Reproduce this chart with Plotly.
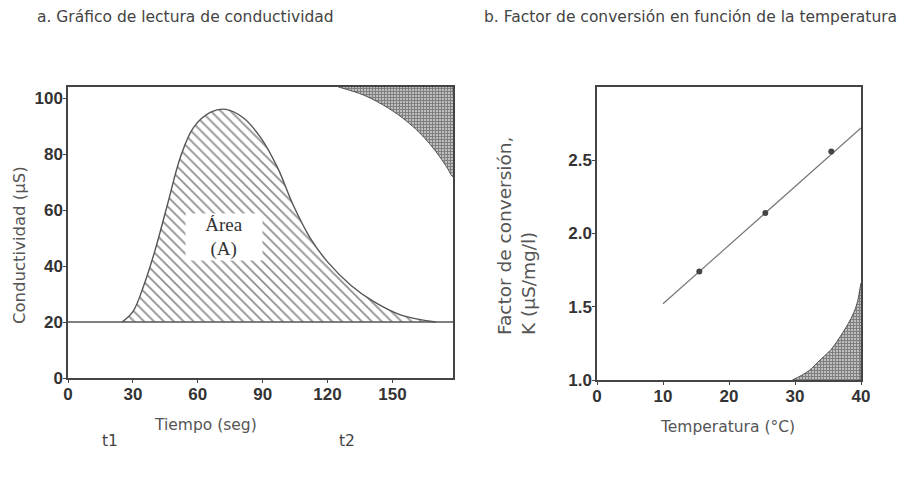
import plotly.graph_objects as go

# ---- Panel a data ----
time_s = [25, 30, 35, 40, 46, 52, 58, 66, 73, 81, 89, 97, 104, 112, 120, 131, 141, 154, 170]
cond_us = [20, 23.7, 33, 45, 62, 79, 89.5, 95, 96, 93, 86, 75, 62, 50, 41.5, 33, 27.5, 22.5, 20]
baseline_t = [0, 178]
baseline_c = [20, 20]
corner_a_t = [125, 137, 148, 157, 164, 170, 175, 178, 178]
corner_a_c = [104, 101, 96.5, 91.5, 86.5, 81, 75.5, 72, 104]
a_xticks = [0, 30, 60, 90, 120, 150]
a_yticks = [0, 20, 40, 60, 80, 100]

# ---- Panel b data ----
temp_pts = [15.5, 25.5, 35.5]
k_pts = [1.74, 2.14, 2.56]
fit_t = [10, 40]
fit_k = [1.52, 2.72]
corner_b_t = [29.6, 32, 33.8, 35.5, 36.9, 38.0, 38.9, 39.5, 39.9, 40, 40]
corner_b_k = [1.0, 1.06, 1.137, 1.21, 1.30, 1.38, 1.46, 1.54, 1.64, 1.66, 1.0]
b_xticks = [0, 10, 20, 30, 40]
b_yticks = [1.0, 1.5, 2.0, 2.5]

# page body has an 8px margin; figure sized to fill the rest of the 922x478 window
OFF = 8
W, H = 922 - OFF, 478 - OFF


def PX(px):
    return (px - OFF) / W


def PY(py):
    return 1 - (py - OFF) / H


fig = go.Figure()

xpat = dict(shape="+", size=3, solidity=0.8, fgcolor="#000", bgcolor="white")

# crosshatched corner (panel a)
fig.add_trace(go.Scatter(x=corner_a_t, y=corner_a_c, mode="lines", fill="toself",
                         line=dict(color="#333", width=0.8, shape="spline"),
                         fillcolor="rgba(0,0,0,0)", fillpattern=xpat,
                         xaxis="x", yaxis="y", showlegend=False, hoverinfo="skip"))
# hatched area (panel a)
fig.add_trace(go.Scatter(x=time_s, y=cond_us, mode="lines", fill="toself",
                         line=dict(color="#555", width=1.4, shape="spline", smoothing=1.0),
                         fillcolor="rgba(0,0,0,0)",
                         fillpattern=dict(shape="\\", size=7, solidity=0.26, fgcolor="#222", bgcolor="white"),
                         xaxis="x", yaxis="y", showlegend=False))
# baseline
fig.add_trace(go.Scatter(x=baseline_t, y=baseline_c, mode="lines",
                         line=dict(color="#555", width=1.5),
                         xaxis="x", yaxis="y", showlegend=False))

# crosshatched corner (panel b)
fig.add_trace(go.Scatter(x=corner_b_t, y=corner_b_k, mode="lines", fill="toself",
                         line=dict(color="#333", width=0.8, shape="spline"),
                         fillcolor="rgba(0,0,0,0)", fillpattern=xpat,
                         xaxis="x2", yaxis="y2", showlegend=False, hoverinfo="skip"))
# fit line
fig.add_trace(go.Scatter(x=fit_t, y=fit_k, mode="lines",
                         line=dict(color="#777", width=1.2),
                         xaxis="x2", yaxis="y2", showlegend=False))
# points
fig.add_trace(go.Scatter(x=temp_pts, y=k_pts, mode="markers",
                         marker=dict(color="#444", size=6),
                         xaxis="x2", yaxis="y2", showlegend=False))

tickfont = dict(family="Liberation Sans, Arial", size=17, color="#333", weight="bold")
axcommon = dict(showgrid=False, zeroline=False, showline=True, linecolor="#444", linewidth=1.5,
                mirror=True, ticks="outside", ticklen=3, tickcolor="#444", tickfont=tickfont,
                automargin=False, ticklabelstandoff=-3)

fig.update_layout(
    width=W, height=H,
    margin=dict(l=0, r=0, t=0, b=0, pad=0),
    paper_bgcolor="white", plot_bgcolor="white",
    xaxis=dict(domain=[PX(68), PX(453)], range=[0, 178], tickvals=a_xticks, anchor="y", **axcommon),
    yaxis=dict(domain=[PY(378), PY(87)], range=[0, 104], tickvals=a_yticks, anchor="x", **axcommon),
    xaxis2=dict(domain=[PX(597), PX(861)], range=[0, 40], tickvals=b_xticks, anchor="y2", **axcommon),
    yaxis2=dict(domain=[PY(380), PY(87)], range=[1.0, 3.0], tickvals=b_yticks, tickformat=".1f",
                anchor="x2", **axcommon),
)

SANS = "DejaVu Sans, Noto Sans, sans-serif"
txtfont = dict(family=SANS, size=15.5, color="#444")
ann = [
    dict(text="a. Gráfico de lectura de conductividad", x=PX(35), y=PY(17), xanchor="left", yanchor="middle",
         font=txtfont),
    dict(text="b. Factor de conversión en función de la temperatura", x=PX(482), y=PY(17),
         xanchor="left", yanchor="middle", font=txtfont),
    dict(text="Conductividad (µS)", x=PX(19), y=PY(245), textangle=-90, xanchor="center", yanchor="middle",
         font=dict(family=SANS, size=16.5, color="#555")),
    dict(text="Tiempo (seg)", x=PX(205), y=PY(425), xanchor="center", yanchor="middle",
         font=dict(family=SANS, size=15.5, color="#555")),
    dict(text="t1", x=PX(110), y=PY(441), xanchor="center", yanchor="middle",
         font=dict(family=SANS, size=15.5, color="#444")),
    dict(text="t2", x=PX(347), y=PY(441), xanchor="center", yanchor="middle",
         font=dict(family=SANS, size=15.5, color="#444")),
    dict(text="Factor de conversión,<br>K (µS/mg/l)", x=PX(516), y=PY(236), textangle=-90, align="left",
         xanchor="center", yanchor="middle",
         font=dict(family=SANS, size=18.5, color="#555")),
    dict(text="Temperatura (°C)", x=PX(727), y=PY(427), xanchor="center", yanchor="middle",
         font=dict(family=SANS, size=15.5, color="#555")),
    dict(text="Área<br>(A)", x=72, y=50.4, xref="x", yref="y", xanchor="center", yanchor="middle",
         bgcolor="white", width=74, height=44,
         font=dict(family="Liberation Serif, Times New Roman, serif", size=19, color="#333")),
]
for a in ann:
    a.setdefault("xref", "paper")
    a.setdefault("yref", "paper")
    a["showarrow"] = False
fig.update_layout(annotations=ann)

fig.write_html("out.html")
